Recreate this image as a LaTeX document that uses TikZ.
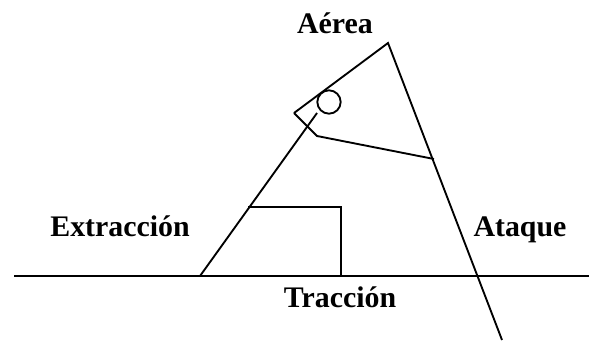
\documentclass[tikz,border=0pt]{standalone}
\usepackage{fontspec}
\setmainfont{Liberation Serif}
\tikzset{lbl/.style={font=\bfseries\fontsize{22.4}{26}\selectfont,inner sep=0pt,anchor=base}}
\begin{document}
\begin{tikzpicture}[x=1pt,y=-1pt,xscale=0.75,yscale=0.75,line width=1.4pt]
  \useasboundingbox (0,0) rectangle (589,343);
  \coordinate (left) at (14,276);
  \coordinate (right) at (589,276);
  \coordinate (base) at (200,276);
  \coordinate (apex) at (388,43);
  \coordinate (tip) at (294,113);
  \coordinate (elbow) at (317,136);
  \coordinate (joint) at (434,159);
  \coordinate (foot) at (502,340);
  \coordinate (bar) at (248,207);
  \coordinate (corner) at (341,207);
  \coordinate (drop) at (341,276);
  \coordinate (hinge) at (317,113);
  \draw (left) -- (right);
  \draw (base) -- (hinge);
  \draw (tip) -- (apex) -- (foot);
  \draw (tip) -- (elbow) -- (joint);
  \draw (bar) -- (corner) -- (drop);
  \node[draw,circle,minimum size=17.5pt,inner sep=0pt] (ring) at (329,102) {};
  \node[lbl] (aerea) at (335,33) {Aérea};
  \node[lbl] (extraccion) at (120,236) {Extracción};
  \node[lbl] (ataque) at (520,236) {Ataque};
  \node[lbl] (traccion) at (340,307) {Tracción};
\end{tikzpicture}
\end{document}
